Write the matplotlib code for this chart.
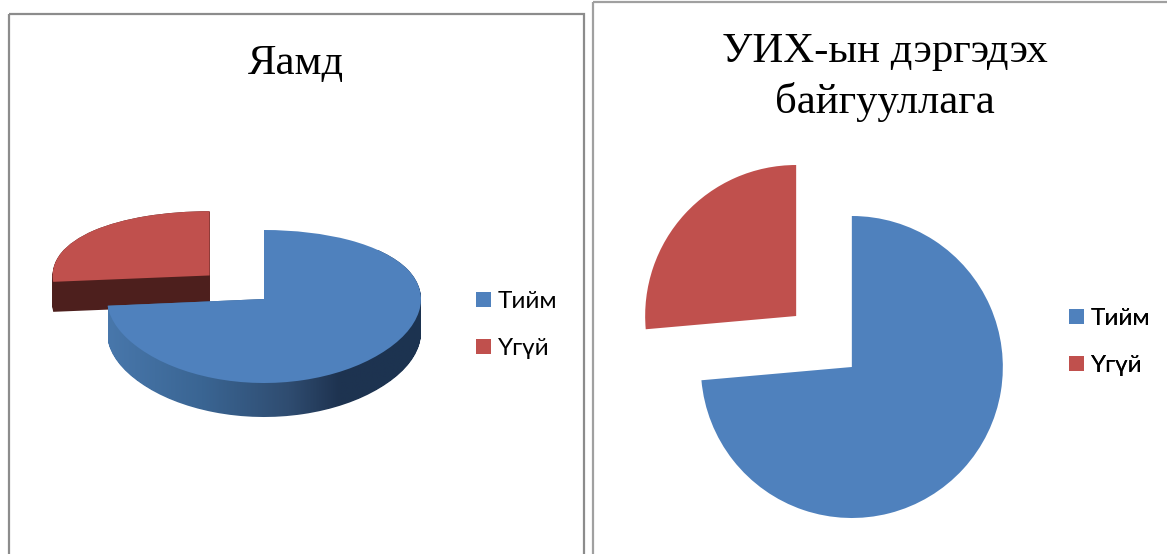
import numpy as np
import matplotlib
matplotlib.use("Agg")
import matplotlib.pyplot as plt
from matplotlib.colors import LinearSegmentedColormap
from matplotlib.patches import PathPatch, Rectangle
from matplotlib.path import Path
from matplotlib.transforms import Affine2D, Transform

categories = ["Тийм", "Үгүй"]
values_left = [73.6, 26.4]
values_right = [73.6, 26.4]
title_left = "Яамд"
title_right = "УИХ-ын дэргэдэх\nбайгууллага"

BLUE = "#4f81bd"
RED = "#c0504d"
RED_DARK = "#4d1f1d"
wall_cmap = LinearSegmentedColormap.from_list(
    "wall", [(0, "#4877ab"), (0.3, "#3a6593"), (0.58, "#2f4c70"),
             (0.74, "#1e3350"), (1, "#1c3350")])

SERIF = "Liberation Serif"
SANS = ["Lato", "Open Sans", "DejaVu Sans"]


class Perspective(Transform):
    """Tilted pie: the near half of the disc is drawn taller than the far half."""
    input_dims = output_dims = 2

    def __init__(self, cx, cy, rx, ry_mean, ry_diff):
        super().__init__()
        self.p = (cx, cy, rx, ry_mean, ry_diff)

    def transform_non_affine(self, xy):
        cx, cy, rx, a, b = self.p
        xy = np.asarray(xy, float)
        return np.column_stack([cx + rx * xy[:, 0],
                                cy - (a * xy[:, 1] - b * xy[:, 1] ** 2)])


fig = plt.figure(figsize=(11.67, 5.54), dpi=100, facecolor="white")
ax = fig.add_axes([0, 0, 1, 1])

# ---- left: tilted 3-D pie
wl, _ = ax.pie(values_left, colors=[BLUE, RED], startangle=90, counterclock=False,
               explode=[0, 0.47], normalize=True)
persp = Perspective(264, 299, 157, 76.5, 7.5)
DEPTH = 34


def extrude(wedge, depth):
    base = persp.transform_path(wedge.get_path())
    return Path.make_compound_path(
        *[base.transformed(Affine2D().translate(0, d)) for d in np.arange(0, depth + 0.5)])


ax.add_patch(PathPatch(extrude(wl[1], 30), fc=RED_DARK, ec="none", zorder=1))
wl[1].set_transform(persp + ax.transData)
wl[1].set_zorder(2)
wall = ax.imshow(np.linspace(0, 1, 256)[None, :], cmap=wall_cmap, aspect="auto",
                 extent=(108, 421, 450, 250), zorder=3)
wall.set_clip_path(extrude(wl[0], DEPTH), ax.transData)
wl[0].set_transform(persp + ax.transData)
wl[0].set_zorder(4)

# ---- right: flat exploded pie
wr, _ = ax.pie(values_right, colors=[BLUE, RED], startangle=90, counterclock=False,
               explode=[0.25, 0.25], normalize=True)
flat = Affine2D().scale(151, -151).translate(824, 341.5)
for w in wr:
    w.set_transform(flat + ax.transData)

ax.set_aspect("auto")
ax.set_xlim(0, 1167)
ax.set_ylim(554, 0)
ax.axis("off")

# ---- frames
for x, y, wd, ht, col, lw in [(9, 14, 575, 600, "#8c8c8c", 1.6),
                              (592.5, 2, 620, 600, "#a0a0a0", 1.6)]:
    ax.add_patch(Rectangle((x, y), wd, ht, fc="none", ec=col, lw=lw, zorder=0))

# ---- titles
ax.text(296, 64, title_left, family=SERIF, fontsize=30.8, ha="center", va="center",
        color="black")
ax.text(885, 77, title_right, family=SERIF, fontsize=30.8, ha="center", va="center",
        color="black", linespacing=1.36)

# ---- legends
for patches, anchor in [(wl, (466, 281)), (wr, (1059, 298))]:
    leg = ax.legend(patches, categories, loc="upper left", bbox_to_anchor=anchor,
                    bbox_transform=ax.transData, frameon=False, borderpad=0,
                    borderaxespad=0.4, handlelength=0.62, handleheight=0.57,
                    handletextpad=0.3, labelspacing=1.1,
                    prop={"family": SANS, "size": 17.5})
    ax.add_artist(leg)

fig.savefig("out.png", dpi=100)
